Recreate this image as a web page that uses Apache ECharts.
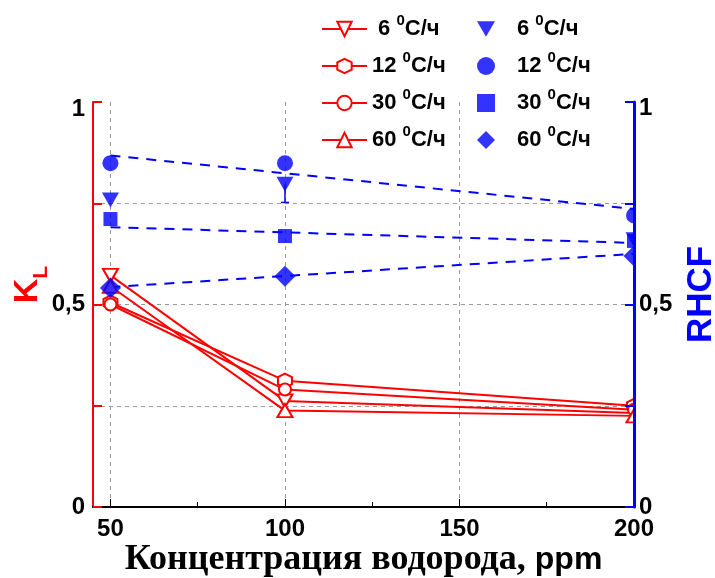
<!DOCTYPE html>
<html><head><meta charset="utf-8">
<script src="https://cdn.jsdelivr.net/npm/echarts@6/dist/echarts.min.js"></script>
<style>html,body{margin:0;padding:0;background:#fff}#c{width:715px;height:578px}</style>
</head><body><div id="c"></div>
<script>
// ---- data ----
const xValues = [50, 100, 200];
// K_L (left axis), hollow red markers
const kl6 = [0.572, 0.262, 0.232];
const kl12 = [0.505, 0.312, 0.25];
const kl30 = [0.50, 0.29, 0.24];
const kl60 = [0.545, 0.238, 0.225];
// RHCF (right axis), filled blue markers
const rh6 = [0.758, 0.797, 0.66];
const rh12 = [0.849, 0.849, 0.72];
const rh30 = [0.711, 0.669, 0.657];
const rh60 = [0.541, 0.570, 0.62];
// dashed blue trend lines
const trendX = [50, 200];
const trend12 = [0.868, 0.736];
const trend30 = [0.691, 0.652];
const trend60 = [0.543, 0.625];
// error bar (6 C/h RHCF at 100 ppm)
const errX = [100];
const errHigh = [0.797];
const errLow = [0.752];
// ticks
const xTicks = [50, 100, 150, 200];
const xMinorTicks = [75, 125, 175];
const yLabelTicks = [0, 0.5, 1];

const RED = '#ff0000', BLUE = '#0000ff';
const SANS = 'Liberation Sans, Arial, sans-serif';
const SERIF = 'Liberation Serif, Times New Roman, serif';

const symDown = 'path://M0,0 L10,0 L5,8.5 Z';
const symUp = 'path://M5,0 L10,8.5 L0,8.5 Z';
const symHex = 'path://M5,0 L10,2.8 L10,8.2 L5,11 L0,8.2 L0,2.8 Z';

function pairs(xs, ys) { return xs.map((x, i) => [x, ys[i]]); }

const redDefs = [
  { name: 'K6', data: kl6, symbol: symDown, size: [15, 13] },
  { name: 'K12', data: kl12, symbol: symHex, size: [14, 14] },
  { name: 'K30', data: kl30, symbol: 'circle', size: 12 },
  { name: 'K60', data: kl60, symbol: symUp, size: [15, 13] }
];
const blueDefs = [
  { name: 'R6', data: rh6, symbol: symDown, size: [17, 15] },
  { name: 'R12', data: rh12, symbol: 'circle', size: 16 },
  { name: 'R30', data: rh30, symbol: 'rect', size: 14 },
  { name: 'R60', data: rh60, symbol: 'diamond', size: 21 }
];
const trendDefs = [trend12, trend30, trend60];

const series = [];
redDefs.forEach(d => series.push({
  name: d.name, type: 'line', yAxisIndex: 0,
  data: pairs(xValues, d.data),
  symbol: d.symbol, symbolSize: d.size, showAllSymbol: true,
  lineStyle: { color: RED, width: 2 },
  itemStyle: { color: '#ffffff', borderColor: RED, borderWidth: 2 },
  emphasis: { disabled: true }, z: 2
}));
trendDefs.forEach((t, i) => series.push({
  name: 'T' + i, type: 'line', yAxisIndex: 1,
  data: pairs(trendX, t), showSymbol: false, symbol: 'none',
  lineStyle: { color: BLUE, width: 2, type: [10, 8] },
  emphasis: { disabled: true }, z: 2
}));
blueDefs.forEach(d => series.push({
  name: d.name, type: 'scatter', yAxisIndex: 1,
  data: pairs(xValues, d.data),
  symbol: d.symbol, symbolSize: d.size,
  itemStyle: { color: BLUE },
  emphasis: { disabled: true }, z: 3
}));
series.push({
  name: 'err', type: 'custom', yAxisIndex: 1,
  data: errX.map((x, i) => [x, errHigh[i], errLow[i]]),
  renderItem: (params, api) => {
    const p1 = api.coord([api.value(0), api.value(1)]);
    const p2 = api.coord([api.value(0), api.value(2)]);
    return { type: 'group', children: [
      { type: 'line', shape: { x1: p1[0], y1: p1[1], x2: p2[0], y2: p2[1] }, style: { stroke: BLUE, lineWidth: 1.5 } },
      { type: 'line', shape: { x1: p2[0] - 4, y1: p2[1], x2: p2[0] + 4, y2: p2[1] }, style: { stroke: BLUE, lineWidth: 1.5 } }
    ] };
  }, z: 3
});

function legendFmt(name) {
  const r = name.slice(1);
  const num = (name[0] === 'K' && r === '6') ? ' 6 ' : r + ' ';
  return '{n|' + num + '}{s|0}{n|C/ч}';
}
const legendRich = {
  n: { fontSize: 22, fontWeight: 'bold', fontFamily: SANS, color: '#000', lineHeight: 24, verticalAlign: 'middle' },
  s: { fontSize: 15, fontWeight: 'bold', fontFamily: SANS, color: '#000', lineHeight: 15, padding: [0, 0, 17, 0], verticalAlign: 'middle' }
};
function yFmt(v) {
  if (v === 1) return '{t|1}';
  return yLabelTicks.indexOf(v) >= 0 ? String(v).replace('.', ',') : '';
}
const yLabelStyle = { fontSize: 24, fontWeight: 'bold', fontFamily: SANS, color: '#000' };

const chart = echarts.init(document.getElementById('c'), null, { renderer: 'canvas' });
chart.setOption({
  animation: false,
  backgroundColor: '#ffffff',
  grid: { left: 93, right: 81, top: 102, bottom: 71, outerBoundsMode: 'none', containLabel: false },
  legend: [
    {
      data: redDefs.map(d => d.name), orient: 'vertical', left: 316, top: 8,
      itemWidth: 45, itemHeight: 18, itemGap: 5, selectedMode: false,
      formatter: legendFmt, textStyle: { rich: legendRich }
    },
    {
      data: blueDefs.map(d => d.name), orient: 'vertical', left: 472, top: 8,
      itemWidth: 18, itemHeight: 18, itemGap: 5, selectedMode: false,
      formatter: legendFmt, textStyle: { rich: legendRich, padding: [0, 0, 0, 17] }
    }
  ],
  xAxis: [{
    type: 'value', min: 45, max: 200,
    name: '{c|Концентрация водорода, }{p|ppm}', nameLocation: 'middle', nameGap: 35, nameMoveOverlap: false,
    nameTextStyle: { rich: {
      c: { fontFamily: SERIF, fontWeight: 'bold', fontSize: 36, color: '#000' },
      p: { fontFamily: SANS, fontWeight: 'bold', fontSize: 32, color: '#000' } } },
    axisLine: { lineStyle: { color: '#000', width: 2 } },
    axisTick: { show: true, inside: true, length: 8, customValues: xTicks, lineStyle: { color: '#000', width: 1 } },
    axisLabel: { customValues: xTicks, fontSize: 24, fontWeight: 'bold', fontFamily: SANS, color: '#000', margin: 10 },
    splitLine: { show: true, showMaxLine: false, lineStyle: { color: '#999', type: [4, 4], width: 1 } }
  }, {
    type: 'value', min: 45, max: 200, position: 'bottom',
    axisLine: { show: false },
    axisTick: { show: true, inside: true, length: 5, customValues: xMinorTicks, lineStyle: { color: '#000', width: 1 } },
    axisLabel: { show: false }, splitLine: { show: false }
  }],
  yAxis: [{
    type: 'value', min: 0, max: 1, interval: 0.25, position: 'left',
    name: '{k|K}{l|L}', nameLocation: 'middle', nameRotate: 90, nameGap: 41, nameMoveOverlap: false,
    nameTextStyle: { padding: [0, 0, 0, 40], rich: {
      k: { fontFamily: SANS, fontWeight: 'bold', fontSize: 34, color: RED, verticalAlign: 'middle' },
      l: { fontFamily: SANS, fontWeight: 'bold', fontSize: 21, color: RED, padding: [28, 0, 0, 0], verticalAlign: 'middle' } } },
    axisLine: { lineStyle: { color: RED, width: 2 } },
    axisTick: { inside: true, length: 9, lineStyle: { color: RED, width: 2 } },
    axisLabel: Object.assign({ margin: 8, formatter: yFmt, rich: { t: Object.assign({ padding: [14, 0, 0, 0] }, yLabelStyle) } }, yLabelStyle),
    splitLine: { show: true, showMaxLine: false, showMinLine: false, lineStyle: { color: '#999', type: [4, 4], width: 1 } }
  }, {
    type: 'value', min: 0, max: 1, interval: 0.25, position: 'right', z: 5,
    name: 'RHCF', nameLocation: 'middle', nameRotate: 90, nameGap: 50, nameMoveOverlap: false,
    nameTextStyle: { fontFamily: SANS, fontWeight: 'bold', fontSize: 35, color: BLUE, verticalAlign: 'top', padding: [0, 0, 0, 20] },
    axisLine: { lineStyle: { color: BLUE, width: 3 } },
    axisTick: { inside: true, length: 9, lineStyle: { color: BLUE, width: 2 } },
    axisLabel: Object.assign({ margin: 5, formatter: yFmt, rich: { t: Object.assign({ padding: [12, 0, 0, 0] }, yLabelStyle) } }, yLabelStyle),
    splitLine: { show: false }
  }],
  graphic: [{ type: 'rect', shape: { x: 635, y: 90, width: 12, height: 420 }, style: { fill: '#fff' }, z: 4, silent: true }],
  series: series
});
</script></body></html>
